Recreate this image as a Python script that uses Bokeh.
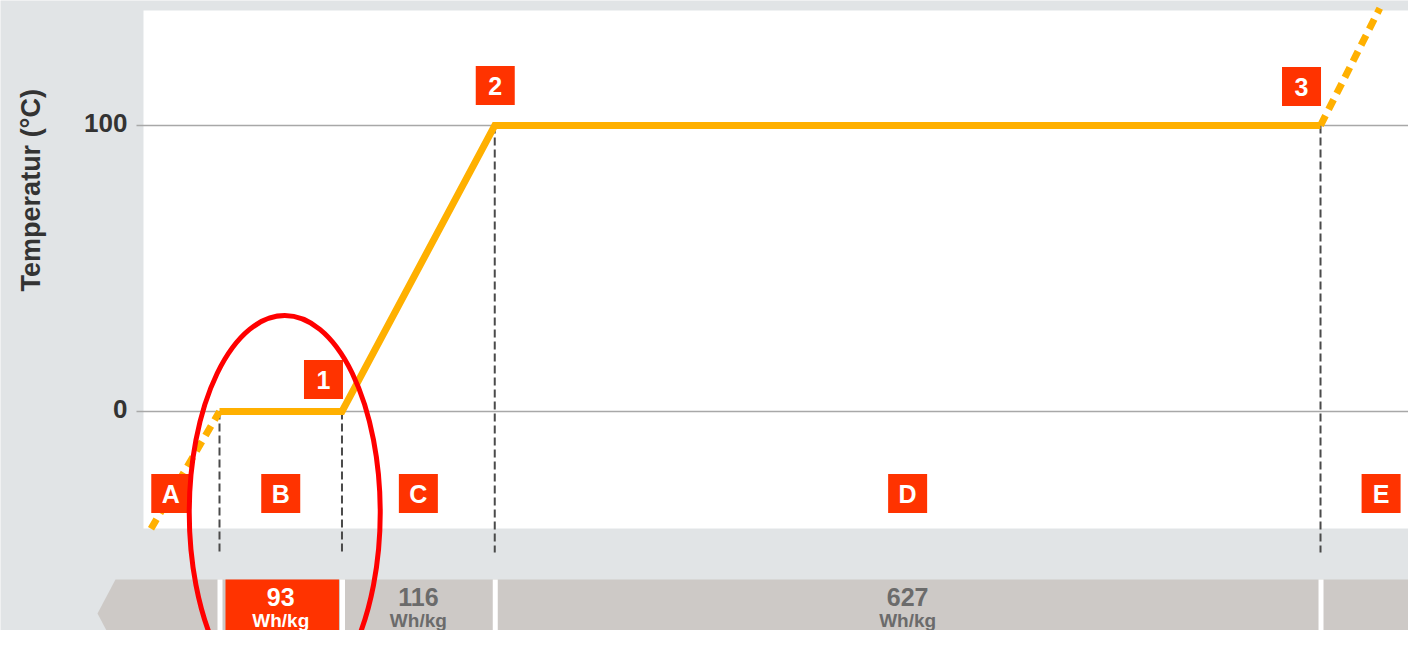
import numpy as np
from bokeh.plotting import figure
from bokeh.models import Range1d
from bokeh.core.properties import value
from bokeh.embed import file_html
from bokeh.resources import INLINE

# ---------------- data ----------------
phases = ["A", "B", "C", "D", "E"]
points = ["1", "2", "3"]
phase_energy = [93, 116, 627]          # Wh/kg for phases B, C, D
energy_unit = "Wh/kg"
melt_temp = 0
boil_temp = 100
y_ticks = [0, 100]
ice_start = [-52, -41]                 # energy, temperature where the dotted ice line starts
steam_end = [881, 141]                 # energy, temperature where the dotted steam line ends
label_a_energy = -37
label_e_energy = 882
y_title = "Temperatur  (°C)"

# ---------------- layout constants (pixels) ----------------
W, H = 1408, 630
X0, PX_E = 219, 1.317     # canvas x of 0 Wh/kg, px per Wh/kg
Y0, PX_T = 411, 2.86      # canvas y of 0 °C, px per °C

FONT = value("Liberation Sans")
BG = "#e1e4e6"
ORANGE = "#ffb000"
RED = "#ff3300"
BAR = "#cdc9c6"
DARK = "#333333"
GREYTXT = "#6b6b6b"


def e_at(cx):
    return (cx - X0) / PX_E


def t_at(cy):
    return (Y0 - cy) / PX_T


p = figure(width=W, height=H, output_backend="svg", toolbar_location=None,
           x_range=Range1d(e_at(0), e_at(W)),
           y_range=Range1d(t_at(H), t_at(0)),
           x_axis_location=None, y_axis_location=None,
           min_border=0, min_border_left=0, min_border_right=0,
           min_border_top=0, min_border_bottom=0,
           background_fill_color=BG, border_fill_color=BG,
           outline_line_color=None)
p.grid.visible = False
p.extra_x_ranges = {"cx": Range1d(0, W)}
p.extra_y_ranges = {"cy": Range1d(H, 0)}

# white plotting area
p.quad(left=[143], right=[W + 10], top=[10], bottom=[528],
       x_range_name="cx", y_range_name="cy",
       fill_color="white", line_color=None)

# horizontal grid lines and tick labels at the y ticks
p.segment(x0=[e_at(136)] * len(y_ticks), y0=y_ticks,
          x1=[e_at(W + 10)] * len(y_ticks), y1=y_ticks,
          line_color="#a8a8a8", line_width=1.5)
p.text([e_at(127)] * len(y_ticks), y_ticks, text=[str(t) for t in y_ticks],
       text_color=DARK, text_font=FONT, text_font_style="bold",
       text_font_size="26px", text_align="right", text_baseline="middle",
       y_offset=-3)

# y-axis title
p.text([30], [186], x_range_name="cx", y_range_name="cy", text=[y_title],
       angle=np.pi / 2, text_color=DARK, text_font=FONT, text_font_style="bold",
       text_font_size="27px", text_align="center", text_baseline="middle")

# curve
bounds = np.concatenate([[0], np.cumsum(phase_energy)])
curve_t = [melt_temp, melt_temp, boil_temp, boil_temp]

# dashed phase boundaries
p.segment(x0=bounds, y0=curve_t, x1=bounds, y1=[t_at(552)] * len(bounds),
          line_color="#4a4a4a", line_width=2, line_dash="8 4")

p.line([ice_start[0], bounds[0]], [ice_start[1], melt_temp],
       line_color=ORANGE, line_width=7, line_dash="11 7")
p.line([bounds[-1], steam_end[0]], [boil_temp, steam_end[1]],
       line_color=ORANGE, line_width=7, line_dash="11 7")
p.line(bounds, curve_t, line_color=ORANGE, line_width=7, line_join="miter")

# numbered point boxes
offs = [(-18.5, -32), (0.5, -40), (-19, -39)]
bx = [bounds[i + 1] + dx / PX_E for i, (dx, dy) in enumerate(offs)]
by = [curve_t[i + 1] - dy / PX_T for i, (dx, dy) in enumerate(offs)]
p.scatter(bx, by, marker="square", size=39, fill_color=RED, line_color=None)
p.text(bx, by, text=points, text_color="white", text_font=FONT,
       text_font_style="bold", text_font_size="25px",
       text_align="center", text_baseline="middle")

# phase letter boxes
mids = list((bounds[:-1] + bounds[1:]) / 2)
lx = [label_a_energy] + mids + [label_e_energy]
ly = [493] * len(phases)
p.scatter(lx, ly, y_range_name="cy", marker="square", size=39,
          fill_color=RED, line_color=None)
p.text(lx, ly, y_range_name="cy", text=phases, text_color="white",
       text_font=FONT, text_font_style="bold", text_font_size="25px",
       text_align="center", text_baseline="middle")

# bottom energy bar (arrow-shaped start)
p.patch([e_at(97), e_at(115), e_at(W + 20), e_at(W + 20), e_at(115)],
        [613, 579, 579, 647, 647], y_range_name="cy",
        fill_color=BAR, line_color=None)
p.segment(x0=bounds + 0.5 / PX_E, y0=[579] * len(bounds), x1=bounds + 0.5 / PX_E,
          y1=[H + 10] * len(bounds), y_range_name="cy",
          line_color="white", line_width=5)
p.quad(left=[bounds[0] + 6 / PX_E], right=[bounds[1] - 3 / PX_E], top=[579], bottom=[H + 10],
       y_range_name="cy", fill_color=RED, line_color=None)
val_colors = ["white"] + [GREYTXT] * (len(phase_energy) - 1)
p.text(mids, [596] * len(mids), y_range_name="cy", text=[str(v) for v in phase_energy],
       text_color=val_colors, text_font=FONT, text_font_style="bold",
       text_font_size="25px", text_align="center", text_baseline="middle")
p.text(mids, [620] * len(mids), y_range_name="cy", text=[energy_unit] * len(mids),
       text_color=val_colors, text_font=FONT, text_font_style="bold",
       text_font_size="19px", text_align="center", text_baseline="middle")

# red highlight ellipse around phase B
p.ellipse(x=[mids[0] + 4 / PX_E], y=[512], y_range_name="cy",
          width=191, height=394, width_units="screen", height_units="screen",
          fill_color=None, line_color="#ff0000", line_width=5)

open("out.html", "w").write(file_html(p, INLINE))
